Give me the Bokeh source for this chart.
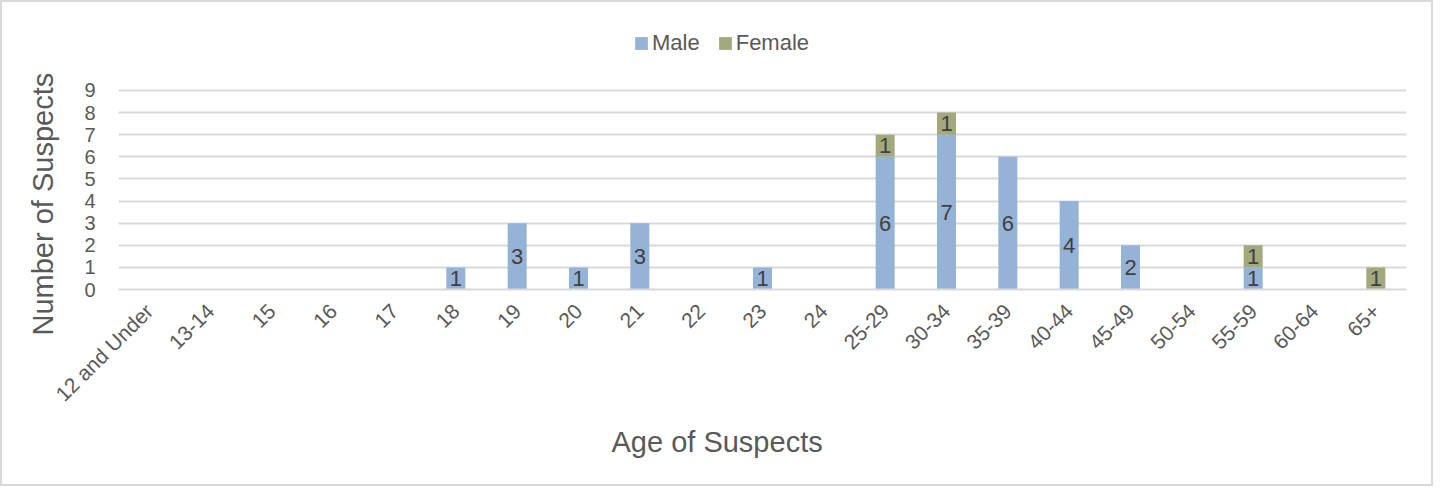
from math import pi
from bokeh.plotting import figure
from bokeh.models import (FactorRange, Range1d, FixedTicker, Legend, LegendItem,
                          ColumnDataSource, LabelSet, Title)
from bokeh.core.properties import value
from bokeh.embed import file_html
from bokeh.resources import INLINE

categories = ["12 and Under", "13-14", "15", "16", "17", "18", "19", "20", "21", "22",
              "23", "24", "25-29", "30-34", "35-39", "40-44", "45-49", "50-54",
              "55-59", "60-64", "65+"]
male = [0, 0, 0, 0, 0, 1, 3, 1, 3, 0, 1, 0, 6, 7, 6, 4, 2, 0, 1, 0, 0]
female = [0, 0, 0, 0, 0, 0, 0, 0, 0, 0, 0, 0, 1, 1, 0, 0, 0, 0, 1, 0, 1]
series = ["Male", "Female"]
colors = ["#95b3d7", "#a4a97d"]
y_ticks = list(range(0, 10))
x_title = "Age of Suspects"
y_title = "Number of Suspects"

FONT = "Liberation Sans"
TXT = "#595959"

# frame extends above the top tick so that the legend can sit inside it
Y_TOP = 12.12

p = figure(x_range=FactorRange(*categories, range_padding=0),
           y_range=Range1d(0, Y_TOP),
           width=1429, height=482, output_backend="svg", toolbar_location=None,
           min_border_left=116, min_border_right=29, min_border_top=19,
           min_border_bottom=199)
p.outline_line_color = None
p.border_fill_color = "white"
p.background_fill_color = "white"

src = ColumnDataSource(dict(cat=categories, Male=male, Female=female))
r = p.vbar_stack(series, x="cat", width=0.31, color=colors, source=src,
                 line_color=None)

# data labels
lx, ly, lt = [], [], []
for c, m, f in zip(categories, male, female):
    if m > 0:
        lx.append(c); ly.append(m / 2); lt.append(str(m))
    if f > 0:
        lx.append(c); ly.append(m + f / 2); lt.append(str(f))
lsrc = ColumnDataSource(dict(x=lx, y=ly, t=lt))
p.add_layout(LabelSet(x="x", y="y", text="t", source=lsrc, text_align="center",
                      text_baseline="middle", text_font=value(FONT),
                      text_font_size="22px", text_color="#404040"))

# grid
p.xgrid.grid_line_color = None
p.ygrid.grid_line_color = "#d9d9d9"
p.ygrid.grid_line_width = 2
p.yaxis.ticker = FixedTicker(ticks=y_ticks)

# axes
p.yaxis.axis_line_color = None
p.yaxis.major_tick_line_color = None
p.yaxis.minor_tick_line_color = None
p.yaxis.major_label_text_font = FONT
p.yaxis.major_label_text_font_size = "20px"
p.yaxis.major_label_text_color = TXT
p.yaxis.major_label_standoff = 17

p.xaxis.axis_line_color = "#d9d9d9"
p.xaxis.axis_line_width = 2
p.xaxis.major_tick_line_color = None
p.xaxis.minor_tick_line_color = None
p.xaxis.major_label_orientation = pi / 4
p.xaxis.major_label_text_font = FONT
p.xaxis.major_label_text_font_size = "21px"
p.xaxis.major_label_text_color = TXT
p.xaxis.major_label_standoff = 12

# axis titles as side titles so they can be offset like the original
yt = Title(text=y_title, align="left", offset=-46, text_font=FONT,
           text_font_size="29px", text_font_style="normal", text_color=TXT,
           standoff=45)
p.add_layout(yt, "left")
xt = Title(text=x_title, align="left", offset=493, text_font=FONT,
           text_font_size="29px", text_font_style="normal", text_color=TXT,
           standoff=15)
p.add_layout(xt, "below")

legend = Legend(items=[LegendItem(label=s, renderers=[rr]) for s, rr in zip(series, r)],
                orientation="horizontal", location=(515, 233),
                glyph_width=16, glyph_height=16, label_standoff=3, spacing=17,
                padding=0, margin=0, border_line_color=None,
                background_fill_alpha=0, label_text_font=FONT,
                label_text_font_size="22px", label_text_color=TXT)
p.add_layout(legend)

# outer border
p.styles = {"border": "2px solid #d9d9d9", "box-sizing": "content-box"}

open("out.html", "w").write(file_html(p, INLINE))
